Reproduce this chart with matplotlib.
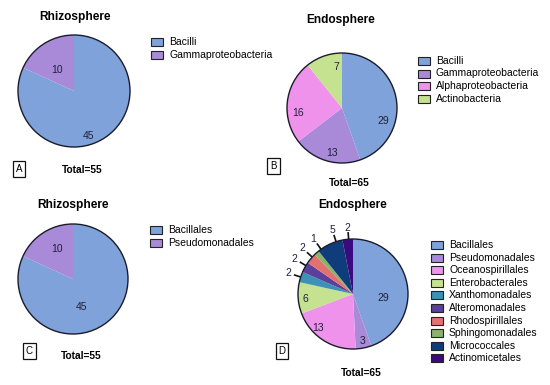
import numpy as np
import matplotlib.pyplot as plt
from matplotlib.patches import Rectangle, Circle

plt.rcParams['font.family'] = ['Liberation Sans', 'DejaVu Sans']

# Rhizosphere (A: class, C: order)
rhizo_counts = [45, 10]
rhizo_class = ['Bacilli', 'Gammaproteobacteria']
rhizo_order = ['Bacillales', 'Pseudomonadales']

# Endosphere, class level (B)
endo_class = ['Bacilli', 'Gammaproteobacteria', 'Alphaproteobacteria', 'Actinobacteria']
endo_class_counts = [29, 13, 16, 7]

# Endosphere, order level (D)
endo_order = ['Bacillales', 'Pseudomonadales', 'Oceanospirillales', 'Enterobacterales',
              'Xanthomonadales', 'Alteromonadales', 'Rhodospirillales',
              'Sphingomonadales', 'Micrococcales', 'Actinomicetales']
endo_order_counts = [29, 3, 13, 6, 2, 2, 2, 1, 5, 2]

blue = '#7fa2da'
purple = '#a98ad8'
pink = '#ee92ec'
green = '#c4e290'
order_colors = [blue, purple, pink, green, '#3b91b6', '#5a3f9c', '#e2716f',
                '#8cb16b', '#0f3d7b', '#3a0b7e']

H = 385
fig = plt.figure(figsize=(5.5, 3.85), dpi=100)
ax = fig.add_axes([0, 0, 1, 1])


def Y(y):
    return H - y


def panel(counts, labels, colors, cx, cy, r, lab_r, lab_shift, title, title_xy,
          total, total_xy, letter, letter_xy, leg_xy, leg_step):
    wedges, _ = ax.pie(counts, colors=colors, startangle=90, counterclock=False,
                       center=(cx, Y(cy)), radius=r, frame=True,
                       wedgeprops=dict(linewidth=0))
    ax.add_patch(Circle((cx, Y(cy)), r, fill=False, ec='#1b1b2b', lw=1.0, zorder=3))
    for w, n, d, s in zip(wedges, counts, lab_r, lab_shift):
        mid = (w.theta1 + w.theta2) / 2
        th = np.deg2rad(mid + s)
        x = cx + d * r * np.cos(th)
        y = Y(cy) + d * r * np.sin(th)
        ax.text(x, y, str(n), ha='center', va='center', fontsize=7.5, color='#20203a')
        if d > 1:
            ax.plot([cx + r * np.cos(th), cx + 1.13 * r * np.cos(th)],
                    [Y(cy) + r * np.sin(th), Y(cy) + 1.13 * r * np.sin(th)],
                    color='#111111', lw=1.2, solid_capstyle='butt')
    ax.text(title_xy[0], Y(title_xy[1]), title, ha='center', va='center',
            fontsize=8.6, fontweight='bold')
    ax.text(total_xy[0], Y(total_xy[1]), total, ha='center', va='center',
            fontsize=7.3, fontweight='bold')
    ax.text(letter_xy[0], Y(letter_xy[1]), letter, ha='center', va='center',
            fontsize=7, bbox=dict(boxstyle='square,pad=0.3', fc='white', ec='#111111', lw=0.9))
    lx, ly = leg_xy
    for i, (lab, c) in enumerate(zip(labels, colors)):
        yy = Y(ly + i * leg_step)
        ax.add_patch(Rectangle((lx, yy - 4), 12, 8, fc=c, ec='#222222', lw=0.8))
        ax.text(lx + 18, yy, lab, ha='left', va='center', fontsize=7.5)


panel(rhizo_counts, rhizo_class, [blue, purple], 74, 91, 56,
      [0.84, 0.48], [-15, 6], 'Rhizosphere', (74.5, 17),
      'Total=55', (82.5, 170), 'A', (19, 169), (151, 42), 13)

panel(endo_class_counts, endo_class, [blue, purple, pink, green], 342, 108, 55,
      [0.78, 0.84, 0.8, 0.75], [-27, 4, 13, -12], 'Endosphere', (340.5, 20),
      'Total=65', (349.5, 183), 'B', (273.5, 166), (418, 61), 12.5)

panel(rhizo_counts, rhizo_order, [blue, purple], 73, 279, 55,
      [0.53, 0.62], [-15, -4], 'Rhizosphere', (73.5, 205),
      'Total=55', (81.5, 356), 'C', (29.5, 351), (150, 230), 13)

panel(endo_order_counts, endo_order, order_colors, 353, 294, 55,
      [0.55, 0.87, 0.89, 0.88, 1.24, 1.24, 1.24, 1.24, 1.23, 1.2],
      [-17, 0, -13, 2, 0, -2, -2, -6, -7, -1], 'Endosphere', (352.5, 205),
      'Total=65', (361, 373), 'D', (282, 351), (431, 245), 12.6)

ax.set_xlim(0, 550)
ax.set_ylim(0, H)
ax.set_aspect('equal')
ax.axis('off')

fig.savefig('out.png', dpi=100, facecolor='white')
